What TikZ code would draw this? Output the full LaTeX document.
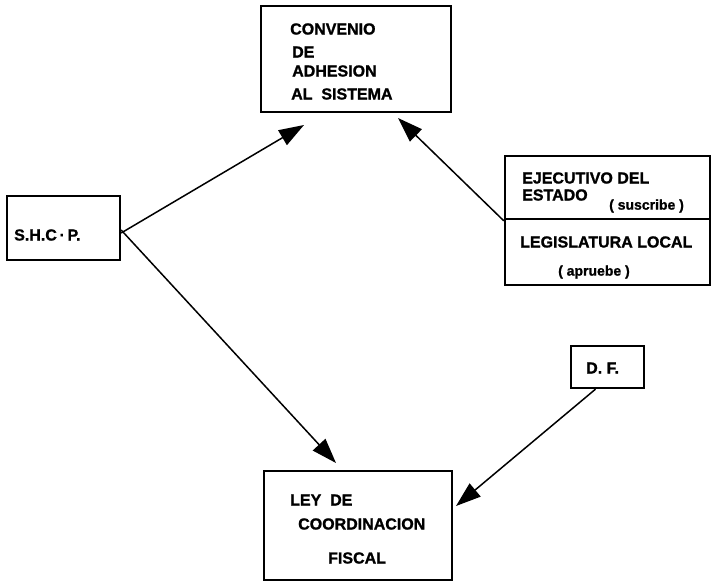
\documentclass[tikz,border=0pt]{standalone}
\usepackage{fontspec}
\setmainfont{Liberation Sans}[FakeBold=1.2]
\usetikzlibrary{arrows.meta}
\begin{document}
\begin{tikzpicture}[x=1pt,y=-1pt,
  box/.style={draw, line width=2.3pt, inner sep=0pt, rectangle},
  lbl/.style={anchor=west, inner sep=0pt, font=\fontsize{16}{18}\selectfont\bfseries},
  small/.style={anchor=west, inner sep=0pt, font=\fontsize{14}{16}\selectfont\bfseries},
  arr/.style={line width=1.5pt, -{Triangle[length=25pt,width=17pt]}}]
\useasboundingbox (0,0) rectangle (713,582);
\fill[white] (0,0) rectangle (713,582);
% boxes
\node[box, minimum width=190pt, minimum height=106pt] (conv) at (356,59) {};
\node[box, minimum width=113pt, minimum height=64pt] (shcp) at (63.5,228) {};
\node[box, minimum width=205pt, minimum height=63pt] (ejec) at (607.5,187.5) {};
\node[box, minimum width=205pt, minimum height=66pt] (legis) at (607.5,252) {};
\node[box, minimum width=73pt, minimum height=42pt] (df) at (607.5,367) {};
\node[box, minimum width=188pt, minimum height=109pt] (ley) at (358,525.5) {};
% texts
\node[lbl] (t1) at (290,29) {CONVENIO};
\node[lbl] (t2) at (292,52) {DE};
\node[lbl] (t3) at (292,71) {ADHESION};
\node[lbl] (t4) at (291,94) {AL\ \ SISTEMA};
\node[lbl] (t5) at (14,235) {S.H.C\,·\,P.};
\node[lbl] (t6) at (522,178) {EJECUTIVO DEL};
\node[lbl] (t7) at (522,195) {ESTADO};
\node[small] (t8) at (609,206) {( suscribe )};
\node[lbl] (t9) at (520,242) {LEGISLATURA LOCAL};
\node[small] (t10) at (558,272) {( apruebe )};
\node[lbl] (t11) at (586,368) {D.\ F.};
\node[lbl] (t12) at (290,500) {LEY\ \ DE};
\node[lbl] (t13) at (298,524) {COORDINACION};
\node[lbl] (t14) at (328,558) {FISCAL};
% arrow tips
\coordinate (c1) at (304,125);
\coordinate (c2) at (398,118);
\coordinate (c3) at (336,463);
\coordinate (c4) at (456,506);
\draw[arr] ([yshift=-5pt]shcp.east) -- (c1);
\draw[arr] ([yshift=-3pt]legis.north west) -- (c2);
\draw[arr] ([yshift=-2pt]shcp.east) -- (c3);
\draw[arr] ([xshift=-12pt]df.south) -- (c4);
\end{tikzpicture}
\end{document}
